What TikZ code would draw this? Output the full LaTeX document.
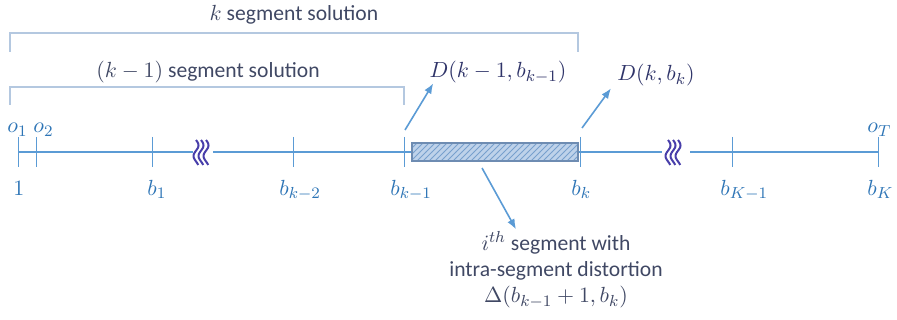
\documentclass[tikz,border=0pt]{standalone}
\usepackage{fontspec}
\setmainfont{Carlito}
\usetikzlibrary{arrows.meta,patterns}
\definecolor{axisblue}{RGB}{91,155,213}
\definecolor{labelblue}{RGB}{46,117,182}
\definecolor{inkblue}{RGB}{47,52,105}
\definecolor{slate}{RGB}{64,72,100}
\definecolor{bracketgray}{RGB}{180,200,224}
\definecolor{squigblue}{RGB}{72,62,170}
\definecolor{hatchfill}{RGB}{190,210,234}
\definecolor{hatchline}{RGB}{120,160,205}
\definecolor{boxedge}{RGB}{110,140,178}

\begin{document}
\begin{tikzpicture}[
    x=0.5pt, y=-0.5pt,
    >={Latex[length=1.8mm,width=1.4mm]},
    axisline/.style={draw=axisblue, line width=1pt},
    tickmark/.style={draw=axisblue, line width=0.5pt},
    squig/.style={draw=squigblue, line width=1pt},
    bracket/.style={draw=bracketgray, line width=0.7pt},
    segbox/.style={draw=boxedge, line width=0.6pt, preaction={fill=hatchfill}, pattern=north east lines, pattern color=hatchline},
    axislabel/.style={text=labelblue, font=\fontsize{11}{13}\selectfont, inner sep=0pt, anchor=base west},
    toptext/.style={text=slate, font=\fontsize{10.8}{13}\selectfont},
    costlabel/.style={text=inkblue, font=\fontsize{10.8}{13}\selectfont, inner sep=1pt},
    callout/.style={->, draw=axisblue, line width=0.8pt}
]
\useasboundingbox (0,0) rectangle (897,320);

% solution brackets
\draw[bracket] (10,52) |- (578,33) -- (578,52);
\draw[bracket] (10,105) |- (404,87) -- (404,105);
\node[toptext] (ksol) at (294,15) {$k$ segment solution};
\node[toptext] (kmsol) at (208,72) {$(k-1)$ segment solution};

% axis with breaks
\draw[axisline] (18,152) -- (193,152);
\draw[axisline] (213,152) -- (412,152);
\draw[axisline] (578,152) -- (662,152);
\draw[axisline] (690,152) -- (878,152);
\foreach \sx in {196,201,206,668,673,678}
  \draw[squig] plot[domain=0:1, samples=25, smooth] ({\sx+2.5*sin(420*\x)}, {140+25*\x});
\foreach \tx/\tname in {18/tone, 36/totwo, 152/tbone, 293/tbkmm, 404/tbkm, 580/tbk, 732/tbKm, 878/tbK}
  \draw[tickmark] (\tx,137) -- (\tx,167) coordinate[pos=0.5] (\tname);
\draw[segbox] (412,143) rectangle (578,161);

% tick labels
\node[axislabel] (lone) at (13,195) {$1$};
\node[axislabel] (lbone) at (147,195) {$b_1$};
\node[axislabel] (lbkmm) at (279,195) {$b_{k-2}$};
\node[axislabel] (lbkm) at (390,195) {$b_{k-1}$};
\node[axislabel] (lbk) at (571,195) {$b_k$};
\node[axislabel] (lbKm) at (720,195) {$b_{K-1}$};
\node[axislabel] (lbK) at (867,195) {$b_K$};
\node[axislabel] (loone) at (7,133) {$o_1$};
\node[axislabel] (lotwo) at (33,133) {$o_2$};
\node[axislabel] (loT) at (867,133) {$o_T$};

% cost labels
\node[costlabel] (Dprev) at (498,72) {$D(k-1,b_{k-1})$};
\node[costlabel] (Dcur) at (656,75) {$D(k,b_k)$};
\node[costlabel, text=slate, align=center] (ith) at (556,270) {$i^{th}$ segment with\\intra-segment distortion\\$\Delta(b_{k-1}+1,b_k)$};

\coordinate (dfrom) at (405,130);
\coordinate (cfrom) at (582,128);
\coordinate (sfrom) at (482,168);
\draw[callout] (dfrom) -- ([xshift=3pt,yshift=1pt]Dprev.south west);
\draw[callout] (cfrom) -- ([xshift=-2pt]Dcur.south west);
\draw[callout] (sfrom) -- ([xshift=-20pt]ith.north);
\end{tikzpicture}
\end{document}
